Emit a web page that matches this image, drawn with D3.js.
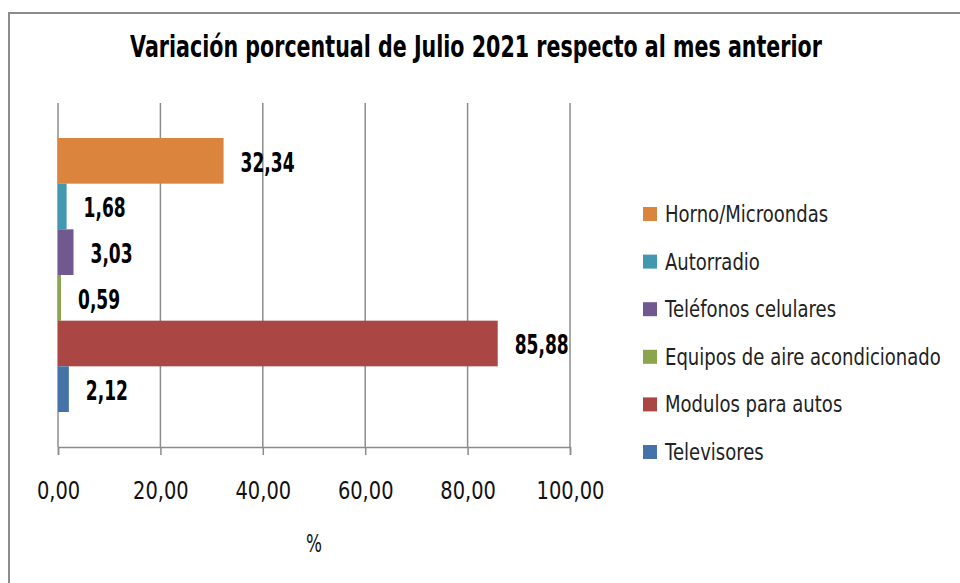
<!DOCTYPE html>
<html>
<head>
<meta charset="utf-8">
<script src="https://cdn.jsdelivr.net/npm/d3@7"></script>
<style>
  body { margin: 0; background: #fff; }
  text { font-family: "DejaVu Sans", sans-serif; }
</style>
</head>
<body>
<div id="chart"></div>
<script>
// data, top to bottom as drawn
const series = ["Horno/Microondas", "Autorradio", "Teléfonos celulares",
                "Equipos de aire acondicionado", "Modulos para autos", "Televisores"];
const values = [32.34, 1.68, 3.03, 0.59, 85.88, 2.12];
const colors = ["#DB843D", "#4198AF", "#71588F", "#89A54E", "#AA4643", "#4572A7"];
const xTicks = [0, 20, 40, 60, 80, 100];

const width = 960, height = 583;
const esLocale = d3.formatLocale({decimal: ",", thousands: ".", grouping: [3], currency: ["", "€"]});
const fmt = esLocale.format(".2f");

const svg = d3.select("#chart").append("svg")
    .attr("width", width)
    .attr("height", height);

// squeeze a group of texts horizontally so one sample text hits a target width
// (the original uses a tall condensed face we don't have)
function condense(sel, sampleText, targetWidth) {
    let k = 1;
    sel.each(function() {
        if (this.textContent === sampleText) k = targetWidth / this.getComputedTextLength();
    });
    sel.each(function() {
        const x0 = +this.getAttribute("x") || 0;
        d3.select(this).attr("transform", `translate(${x0 * (1 - k)},0) scale(${k},1)`);
    });
}

// outer chart border (runs off the right and bottom edge)
svg.append("rect")
    .attr("x", 9).attr("y", 13)
    .attr("width", 1000).attr("height", 1000)
    .attr("fill", "#fff")
    .attr("stroke", "#8c8c8c")
    .attr("stroke-width", 2);

const title = svg.append("text")
    .attr("x", 476).attr("y", 57)
    .attr("text-anchor", "middle")
    .style("font-size", "30px")
    .style("font-weight", "bold")
    .attr("fill", "#000")
    .text("Variación porcentual de Julio 2021 respecto al mes anterior");
condense(title, title.text(), 692);

const plotTop = 103, plotBottom = 447;
const x = d3.scaleLinear().domain([0, 100]).range([58, 570]);
const y = d3.scaleBand().domain(series).range([138, 412]).padding(0);

// gridlines
svg.append("g")
    .selectAll("line")
    .data(xTicks)
    .enter().append("line")
    .attr("x1", d => x(d)).attr("x2", d => x(d))
    .attr("y1", plotTop).attr("y2", plotBottom)
    .attr("stroke", "#8c8c8c")
    .attr("stroke-width", 1.5);

// bars
svg.append("g")
    .selectAll("rect")
    .data(series)
    .enter().append("rect")
    .attr("x", x(0))
    .attr("y", d => y(d))
    .attr("width", (d, i) => x(values[i]) - x(0))
    .attr("height", y.bandwidth())
    .attr("fill", (d, i) => colors[i]);

// x axis
const xAxis = svg.append("g")
    .attr("transform", `translate(0,${plotBottom})`)
    .call(d3.axisBottom(x).tickValues(xTicks).tickSize(8).tickFormat(fmt));
xAxis.select(".domain").attr("stroke", "#8c8c8c").attr("stroke-width", 1.5);
xAxis.selectAll(".tick line").attr("stroke", "#8c8c8c").attr("stroke-width", 1.5);
const tickText = xAxis.selectAll(".tick text")
    .attr("y", 52)
    .attr("dy", null)
    .style("font-size", "25px")
    .attr("fill", "#111");
condense(tickText, "100,00", 68);

// data labels
const labels = svg.append("g")
    .selectAll("text")
    .data(series)
    .enter().append("text")
    .attr("x", (d, i) => x(values[i]) + 17)
    .attr("y", d => y(d) + y.bandwidth() / 2 + 11)
    .style("font-size", "26px")
    .style("font-weight", "bold")
    .attr("fill", "#000")
    .text((d, i) => fmt(values[i]));
condense(labels, "32,34", 54);

const unit = svg.append("text")
    .attr("x", 314).attr("y", 552)
    .attr("text-anchor", "middle")
    .style("font-size", "25px")
    .attr("fill", "#111")
    .text("%");
condense(unit, "%", 16);

// legend
const legend = svg.append("g")
    .selectAll("g")
    .data(series)
    .enter().append("g")
    .attr("transform", (d, i) => `translate(643,${214 + i * 47.6})`);

legend.append("rect")
    .attr("x", 0).attr("y", -7)
    .attr("width", 14).attr("height", 14)
    .attr("fill", (d, i) => colors[i]);

const legendText = legend.append("text")
    .attr("x", 22).attr("y", 8)
    .style("font-size", "23px")
    .attr("fill", "#222")
    .text(d => d);
condense(legendText, "Equipos de aire acondicionado", 276);
</script>
</body>
</html>
